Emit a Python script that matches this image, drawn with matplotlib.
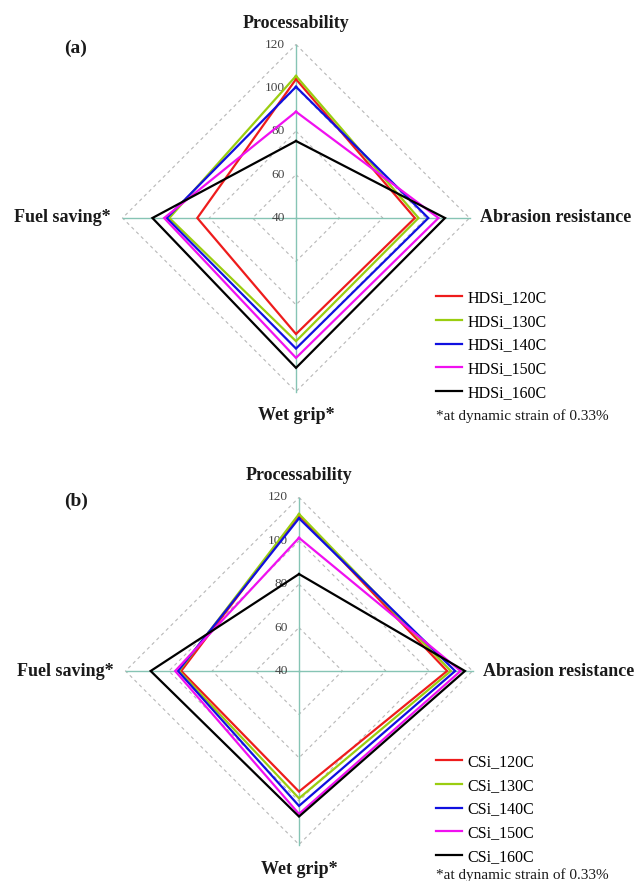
import numpy as np
import matplotlib.pyplot as plt

plt.rcParams['font.family'] = ['Liberation Serif', 'DejaVu Serif']

# radar axes, clockwise from the top
criteria = ["Processability", "Abrasion resistance", "Wet grip*", "Fuel saving*"]
ring_values = [40, 60, 80, 100, 120]

hdsi_names = ["HDSi_120C", "HDSi_130C", "HDSi_140C", "HDSi_150C", "HDSi_160C"]
hdsi_120 = [104.0, 94.8, 93.5, 85.5]
hdsi_130 = [105.5, 96.5, 96.8, 98.4]
hdsi_140 = [100.5, 101.0, 100.2, 99.6]
hdsi_150 = [89.0, 105.7, 104.5, 100.8]
hdsi_160 = [75.5, 108.7, 109.1, 106.2]

csi_names = ["CSi_120C", "CSi_130C", "CSi_140C", "CSi_150C", "CSi_160C"]
csi_120 = [111.8, 108.3, 95.6, 94.3]
csi_130 = [112.4, 110.0, 98.7, 95.3]
csi_140 = [110.4, 112.0, 102.2, 95.8]
csi_150 = [101.4, 114.5, 105.9, 97.1]
csi_160 = [84.7, 116.5, 107.1, 108.4]

colors = ["#ee1c1c", "#9acd10", "#1010e0", "#f010f0", "#000000"]

W, H = 638, 881
R0 = 40.0            # value at centre
SCALE = 173.5 / 80   # pixels per unit
HALF = 190           # half size of each axes in pixels

angles = np.deg2rad([90, 0, -90, 180])

fig = plt.figure(figsize=(W / 100, H / 100), dpi=100)


def radar(cx, cy, series, names, tag, leg_top, foot_y):
    ax = fig.add_axes([(cx - HALF) / W, (H - cy - HALF) / H, 2 * HALF / W, 2 * HALF / H])
    lim = HALF / SCALE
    ax.set_xlim(-lim, lim)
    ax.set_ylim(-lim, lim)
    ax.axis('off')

    def d(px, py):
        return (px - cx) / SCALE, (cy - py) / SCALE

    # dashed diamond rings
    for v in ring_values[1:]:
        r = v - R0
        ring = np.r_[angles, angles[0]]
        ax.plot(r * np.cos(ring), r * np.sin(ring), color='#b8b8b8',
                lw=0.8, ls=(0, (3, 3)), zorder=1)
    # spokes
    rmax = ring_values[-1] - R0
    for a in angles:
        ax.plot([0, rmax * np.cos(a)], [0, rmax * np.sin(a)], color='#86c4b4',
                lw=1.0, zorder=2)
    # tick labels along the top spoke
    for v in ring_values:
        ax.text(-11 / SCALE, v - R0, str(v), ha='right', va='center',
                fontsize=9.6, color='#444444', zorder=3)

    for vals, name, c in zip(series, names, colors):
        r = np.array(vals) - R0
        rr = np.r_[r, r[0]]
        aa = np.r_[angles, angles[0]]
        ax.plot(rr * np.cos(aa), rr * np.sin(aa), color=c, lw=1.6,
                label=name, zorder=4, solid_joinstyle='miter')

    bold = dict(fontsize=13, fontweight='bold', color='#1a1a1a')
    ax.text(*d(cx, cy - 195), criteria[0], ha='center', va='center', **bold)
    ax.text(*d(cx + 184, cy), criteria[1], ha='left', va='center', **bold)
    ax.text(*d(cx, cy + 198), criteria[2], ha='center', va='center', **bold)
    ax.text(*d(cx - 185, cy), criteria[3], ha='right', va='center', **bold)
    ax.text(*d(76, cy - 170), tag, ha='center', va='center',
            fontsize=14, fontweight='bold', color='#1a1a1a')

    ax.legend(loc='upper left', bbox_to_anchor=(436 / W, 1 - leg_top / H),
              bbox_transform=fig.transFigure, frameon=False, borderpad=0,
              borderaxespad=0, handlelength=1.65, handletextpad=0.3,
              labelspacing=0.48, fontsize=11.5)
    fig.text(436 / W, 1 - foot_y / H, "*at dynamic strain of 0.33%",
             ha='left', va='center', fontsize=11, color='#1a1a1a')


radar(296, 218, [hdsi_120, hdsi_130, hdsi_140, hdsi_150, hdsi_160],
      hdsi_names, "(a)", 290, 416)
radar(299, 671, [csi_120, csi_130, csi_140, csi_150, csi_160],
      csi_names, "(b)", 754, 875)

fig.savefig("out.png", dpi=100)
